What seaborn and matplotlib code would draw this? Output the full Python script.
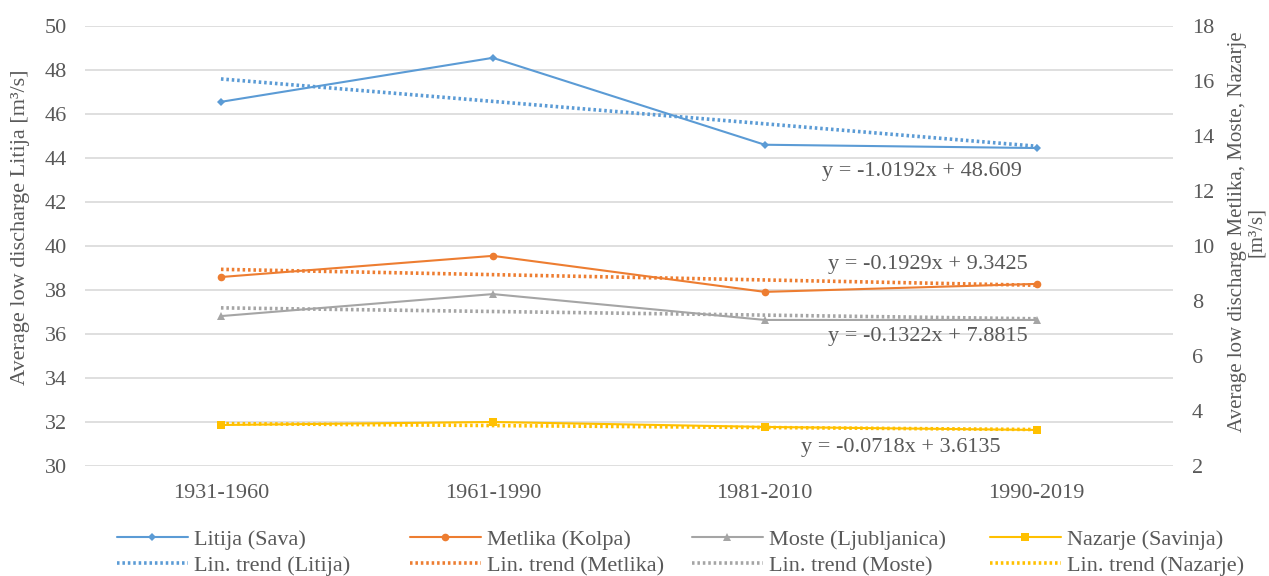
import numpy as np
import pandas as pd
import matplotlib
matplotlib.use("Agg")
import matplotlib.pyplot as plt
import seaborn as sns

periods = ["1931-1960", "1961-1990", "1981-2010", "1990-2019"]
litija = [46.55, 48.55, 44.6, 44.45]
metlika = [8.87, 9.64, 8.33, 8.62]
moste = [7.45, 8.25, 7.31, 7.31]
nazarje = [3.49, 3.60, 3.42, 3.31]

series_names = ["Litija (Sava)", "Metlika (Kolpa)", "Moste (Ljubljanica)", "Nazarje (Savinja)"]
trend_names = ["Lin. trend (Litija)", "Lin. trend (Metlika)", "Lin. trend (Moste)", "Lin. trend (Nazarje)"]
slopes = [-1.0192, -0.1929, -0.1322, -0.0718]
intercepts = [48.609, 9.3425, 7.8815, 3.6135]
equations = ["y = -1.0192x + 48.609", "y = -0.1929x + 9.3425",
             "y = -0.1322x + 7.8815", "y = -0.0718x + 3.6135"]

colors = ["#5B9BD5", "#ED7D31", "#A5A5A5", "#FFC000"]
markers = ["D", "o", "^", "s"]
msizes = [4.5, 5.5, 6, 5.5]

sns.set_style("white")
plt.rcParams["font.family"] = ["Liberation Serif", "DejaVu Serif"]
txt = "#595959"
fs = 16

fig = plt.figure(figsize=(12.69, 5.76), dpi=100)
ax = fig.add_axes([0.067, 0.191, 0.857, 0.764])
ax2 = ax.twinx()

xi = np.arange(1, 5)
values = [litija, metlika, moste, nazarje]
for i, (vals, name) in enumerate(zip(values, series_names)):
    target = ax if i == 0 else ax2
    df = pd.DataFrame({"period": periods, "value": vals})
    sns.lineplot(data=df, x="period", y="value", ax=target, color=colors[i],
                 marker=markers[i], markersize=msizes[i], markeredgewidth=0,
                 linewidth=1.5, label=name, legend=False, zorder=3)
    trend = intercepts[i] + slopes[i] * xi
    dft = pd.DataFrame({"period": periods, "value": trend})
    sns.lineplot(data=dft, x="period", y="value", ax=target, color=colors[i],
                 linewidth=2.6, linestyle=(0, (0.7, 0.8)), label=trend_names[i],
                 legend=False, zorder=2)

ax.set_xlim(-0.5, 3.5)
ax.set_ylim(30, 50)
ax.set_yticks(np.arange(30, 51, 2))
ax2.set_ylim(2, 18)
ax2.set_yticks(np.arange(2, 19, 2))
ax.grid(axis="y", color="#D9D9D9", linewidth=1.2)
ax.grid(axis="x", visible=False)
ax.set_axisbelow(True)
for a in (ax, ax2):
    for s in a.spines.values():
        s.set_visible(False)
    a.tick_params(length=0, labelsize=fs, labelcolor=txt)
    a.set_xlabel("")
ax.tick_params(axis="y", pad=13)
ax.tick_params(axis="x", pad=13)
ax2.tick_params(axis="y", pad=14)

ax.set_ylabel("Average low discharge Litija [m³/s]", fontsize=fs, color=txt,
              va="center", ha="center")
ax.yaxis.set_label_coords(-0.0595, 0.543)
ax2.set_ylabel("Average low discharge Metlika, Moste, Nazarje\n[m³/s]", fontsize=15,
               color=txt, rotation=90, linespacing=0.95, va="center", ha="center")
ax2.yaxis.set_label_coords(1.0685, 0.532)

# trendline equations
eq_pos = [(2.58, 12.7), (2.6, 9.32), (2.6, 6.72), (2.5, 2.66)]
for (x, y), eq in zip(eq_pos, equations):
    ax2.text(x, y, eq, ha="center", va="center", fontsize=fs, color=txt)

h1, l1 = ax.get_legend_handles_labels()
h2, l2 = ax2.get_legend_handles_labels()
H = dict(zip(l1 + l2, h1 + h2))
col_x = [110, 403, 685, 983]
for cx, s, t in zip(col_x, series_names, trend_names):
    fig.legend([H[s], H[t]], [s, t], loc="lower left",
               bbox_to_anchor=(cx / 1269, -0.012), ncol=1, frameon=False,
               fontsize=fs, labelcolor=txt, handlelength=3.2, handletextpad=0.3,
               labelspacing=0.25, borderpad=0.3, borderaxespad=0.0)

fig.savefig("out.png", dpi=100)
